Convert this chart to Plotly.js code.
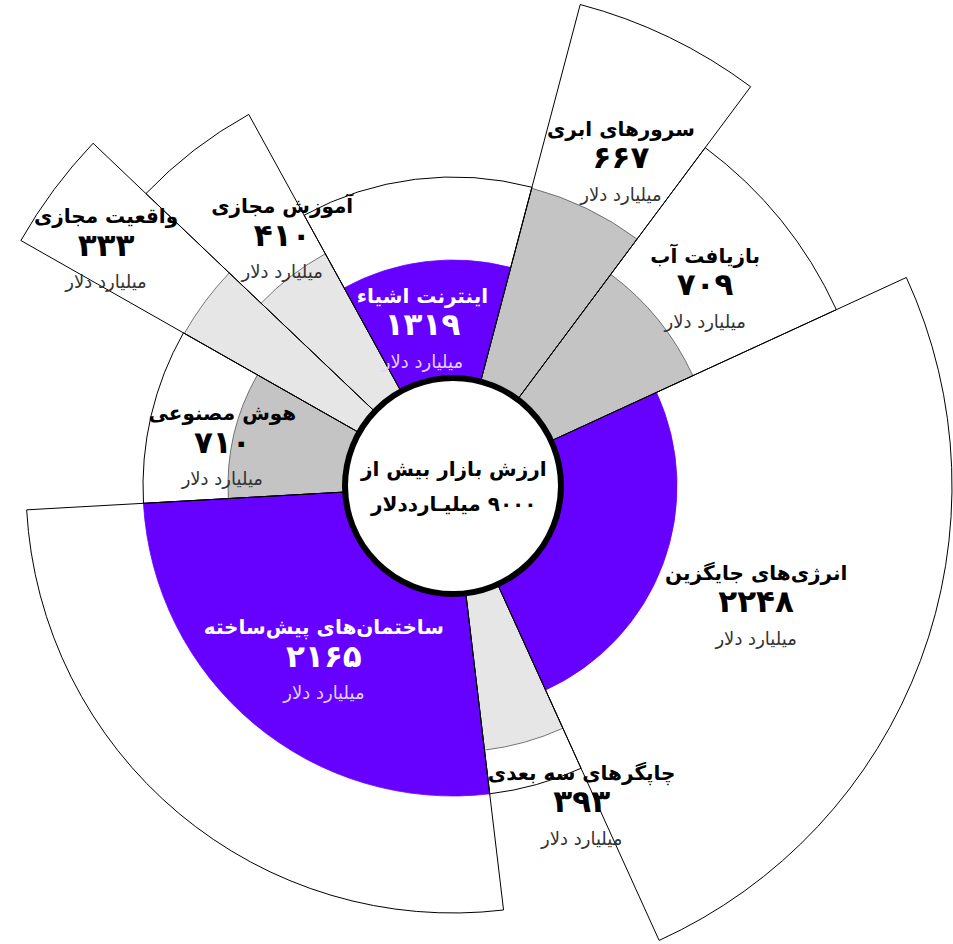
<!DOCTYPE html>
<html lang="fa">
<head>
    <meta charset="UTF-8">
    <title>ارزش بازار فناوری‌های نوظهور</title>
    <script src="https://cdn.plot.ly/plotly-3.0.1.min.js"></script>
    <style>
        html, body {
            margin: 0;
            padding: 0;
            background: #ffffff;
            overflow: hidden;
            width: 953px;
            height: 944px;
        }
        /* the plot is bigger than the window so the long wedges can run off the edges */
        #chart {
            position: absolute;
            left: -97px;
            top: -64px;
            width: 1100px;
            height: 1100px;
        }
    </style>
</head>
<body>
    <div id="chart"></div>

    <script>
        // categories, counter-clockwise starting from the lower right
        const categories = [
            'انرژی‌های جایگزین',
            'بازیافت آب',
            'سرورهای ابری',
            'اینترنت اشیاء',
            'آموزش مجازی',
            'واقعیت مجازی',
            'هوش مصنوعی',
            'ساختمان‌های پیش‌ساخته',
            'چاپگرهای سه بعدی'
        ];
        const values = [2248, 709, 667, 1319, 410, 333, 710, 2165, 393];

        // wedge angles (degrees) and radial levels
        const arcWidths = [90.3, 28.6, 21.9, 43.6, 17.6, 14.0, 32.8, 93.6, 17.6];
        const innerRadii = [224, 264, 308, 226, 265, 309, 225, 310, 266];
        const outerRadii = [499, 422, 498, 309, 424, 497, 310, 427, 310];
        const tiers = [0, 1, 1, 0, 2, 2, 1, 0, 2];

        const unitLabel = 'میلیارد دلار';
        const centerLines = ['ارزش بازار بیش از', '۹۰۰۰ میلیـارددلار'];

        // where each label block sits (angle in degrees, radius in axis units)
        const labelAngle = [-21.6, 38.0, 62.6, 101.0, 124.7, 145.7, 170.3, 233.5, 291.9];
        const labelRadius = [326, 320, 365, 160, 300, 420, 234, 217, 345];

        const startAngle = -65.6;
        const rangeMax = 550;
        const holeR = 108;

        const tierFill = ['#6600ff', '#c4c4c4', '#e6e6e6'];
        const tierEdge = ['#6600ff', '#555555', '#555555'];
        const fontFamily = '"DejaVu Sans", sans-serif';
        const RLM = '\u200F';

        const faDigits = '۰۱۲۳۴۵۶۷۸۹';
        function toFa(n) {
            return String(n).replace(/\d/g, d => faDigits[d]);
        }

        // centre angle of every wedge
        const thetaMid = [];
        let acc = startAngle;
        arcWidths.forEach(w => {
            thetaMid.push(acc + w / 2);
            acc += w;
        });

        const coloredTrace = {
            type: 'barpolar',
            r: innerRadii,
            theta: thetaMid,
            width: arcWidths,
            marker: {
                color: tiers.map(t => tierFill[t]),
                line: { color: tiers.map(t => tierEdge[t]), width: 0.8 }
            },
            hoverinfo: 'skip'
        };

        const outlineTrace = {
            type: 'barpolar',
            r: outerRadii,
            theta: thetaMid,
            width: arcWidths,
            marker: {
                color: 'rgba(0,0,0,0)',
                line: { color: '#000000', width: 1 }
            },
            hoverinfo: 'skip'
        };

        // labels that sit inside a purple wedge are white
        const isLight = categories.map((c, i) => tiers[i] === 0 && labelRadius[i] < innerRadii[i]);

        const labelText = categories.map((c, i) =>
            '<span style="font-size:20px"><b>' + c + '</b></span><br>' +
            '<span style="font-size:31px"><b>' + toFa(values[i]) + '</b></span><br>' +
            '<span style="font-size:18px;color:' + (isLight[i] ? '#ded4ff' : '#333333') + '">' +
            unitLabel + '</span>'
        );

        const labelTrace = {
            type: 'scatterpolar',
            mode: 'text',
            r: labelRadius,
            theta: labelAngle,
            text: labelText,
            textposition: 'middle center',
            textfont: {
                family: fontFamily,
                size: 25,
                color: isLight.map(l => l ? '#ffffff' : '#000000')
            },
            cliponaxis: false,
            hoverinfo: 'skip'
        };

        const holeFrac = holeR / (2 * rangeMax);

        const layout = {
            width: 1100,
            height: 1100,
            margin: { l: 0, r: 0, t: 0, b: 0 },
            paper_bgcolor: '#ffffff',
            showlegend: false,
            polar: {
                domain: { x: [0, 1], y: [0, 1] },
                bgcolor: '#ffffff',
                barmode: 'overlay',
                radialaxis: { visible: false, range: [0, rangeMax] },
                angularaxis: { visible: false, rotation: 0, direction: 'counterclockwise' }
            },
            shapes: [{
                type: 'circle',
                xref: 'paper',
                yref: 'paper',
                x0: 0.5 - holeFrac,
                x1: 0.5 + holeFrac,
                y0: 0.5 - holeFrac,
                y1: 0.5 + holeFrac,
                fillcolor: '#ffffff',
                line: { color: '#000000', width: 6 },
                layer: 'above'
            }],
            annotations: [{
                xref: 'paper',
                yref: 'paper',
                x: 0.5,
                y: 0.5,
                showarrow: false,
                text: centerLines.map(s => '<span style="font-size:20px"><b>' + RLM + s + '</b></span>').join('<br>'),
                font: { family: fontFamily, size: 27, color: '#000000' }
            }]
        };

        Plotly.newPlot('chart', [coloredTrace, outlineTrace, labelTrace], layout, {
            displayModeBar: false,
            staticPlot: true
        });
    </script>
</body>
</html>
